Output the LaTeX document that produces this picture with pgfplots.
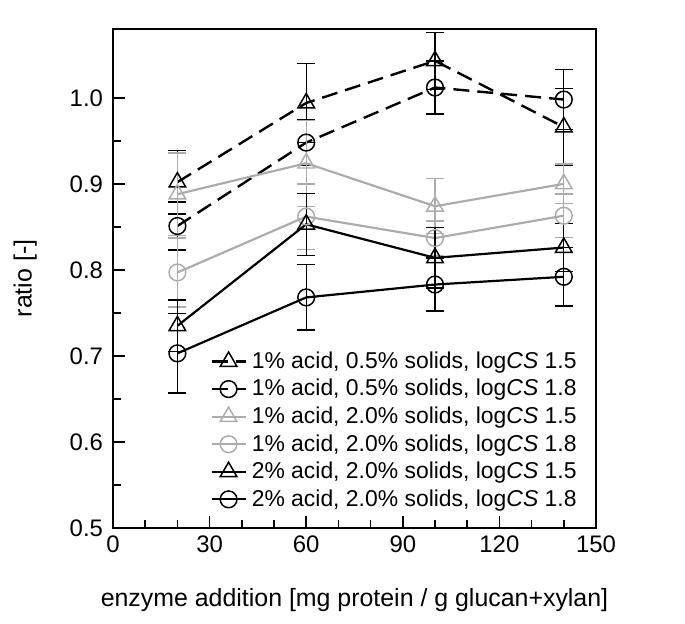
\documentclass[border=0pt]{standalone}
\usepackage{fontspec}
\setmainfont{Liberation Sans}
\usepackage{pgfplots}
\pgfplotsset{compat=1.18}
\definecolor{lgray}{RGB}{172,172,172}

\begin{document}
\begin{tikzpicture}
% page frame: 685x624 px at 0.5 bp per px, axis box at origin
\path[use as bounding box] (-56.5bp,-48bp) rectangle (286bp,264bp);
\begin{axis}[
    at={(0,0)}, anchor=south west,
    scale only axis,
    width=241.5bp, height=249.5bp,
    xmin=0, xmax=150, ymin=0.5, ymax=1.08,
    xtick={0,30,...,150}, minor x tick num=2,
    ytick={0.5,0.6,...,1.0}, minor y tick num=1,
    yticklabel style={/pgf/number format/fixed, /pgf/number format/fixed zerofill,
        /pgf/number format/precision=1, xshift=-1.5pt},
    /pgf/number format/assume math mode=true,
    tick pos=left, tick align=inside,
    major tick length=6bp, minor tick length=4bp,
    every tick/.style={black, line width=0.8pt},
    axis line style={line width=1.2pt},
    tick label style={font=\fontsize{12}{14}\selectfont},
    label style={font=\fontsize{12.5}{15}\selectfont},
    xticklabel style={yshift=-0.5pt},
    xlabel={enzyme addition [mg protein / g glucan+xylan]},
    ylabel={ratio [-]},
    xlabel style={at={(axis description cs:0.5,-0.144)}, anchor=center},
    ylabel style={at={(axis description cs:-0.182,0.5)}, anchor=center},
    legend style={at={(0.975,0.025)}, anchor=south east, draw=none, fill=none,
        font=\fontsize{11.5}{14.5}\selectfont, row sep=0pt, inner sep=1pt,
        nodes={inner xsep=2.5pt}},
    legend cell align=left,
    legend image code/.code={\draw[mark repeat=2, mark phase=2]
        plot coordinates {(0cm,0cm) (0.3cm,0cm) (0.6cm,0cm)};},
    error bars/y dir=both, error bars/y explicit,
    error bars/error bar style={solid, line width=0.7pt},
    error bars/error mark options={rotate=90, mark size=4.5pt, line width=0.7pt, solid},
]
% 1% acid, 0.5% solids, logCS 1.5
\addplot[black, line width=1.2pt, dash pattern=on 8bp off 4bp, mark=triangle, mark size=4.8pt,
    mark options={solid, fill=none, line width=0.75pt}]
    coordinates {(20,0.902) +- (0,0.037) (60,0.994) +- (0,0.046) (100,1.043) +- (0,0.033) (140,0.966) +- (0,0.045)};
% 1% acid, 0.5% solids, logCS 1.8
\addplot[black, line width=1.2pt, dash pattern=on 8bp off 4bp, mark=o, mark size=4.2pt,
    mark options={solid, fill=none, line width=0.75pt}]
    coordinates {(20,0.851) +- (0,0.028) (60,0.948) +- (0,0.027) (100,1.012) +- (0,0.031) (140,0.998) +- (0,0.035)};
% 1% acid, 2.0% solids, logCS 1.5
\addplot[lgray, line width=1.1pt, mark=triangle, mark size=4.8pt,
    mark options={solid, fill=none, line width=0.75pt}]
    coordinates {(20,0.888) +- (0,0.048) (60,0.924) +- (0,0.050) (100,0.874) +- (0,0.032) (140,0.900) +- (0,0.023)};
% 1% acid, 2.0% solids, logCS 1.8
\addplot[lgray, line width=1.1pt, mark=o, mark size=4.2pt,
    mark options={solid, fill=none, line width=0.75pt}]
    coordinates {(20,0.797) +- (0,0.040) (60,0.862) +- (0,0.038) (100,0.837) +- (0,0.020) (140,0.863) +- (0,0.025)};
% 2% acid, 2.0% solids, logCS 1.5
\addplot[black, line width=1.1pt, mark=triangle, mark size=4.8pt,
    mark options={solid, fill=none, line width=0.75pt}]
    coordinates {(20,0.735) +- (0,0.030) (60,0.853) +- (0,0.036) (100,0.814) +- (0,0.035) (140,0.826) +- (0,0.028)};
% 2% acid, 2.0% solids, logCS 1.8
\addplot[black, line width=1.1pt, mark=o, mark size=4.2pt,
    mark options={solid, fill=none, line width=0.75pt}]
    coordinates {(20,0.703) +- (0,0.046) (60,0.768) +- (0,0.038) (100,0.783) +- (0,0.031) (140,0.792) +- (0,0.034)};
\legend{1\% acid{,} 0.5\% solids{,} log\textit{CS} 1.5,
        1\% acid{,} 0.5\% solids{,} log\textit{CS} 1.8,
        1\% acid{,} 2.0\% solids{,} log\textit{CS} 1.5,
        1\% acid{,} 2.0\% solids{,} log\textit{CS} 1.8,
        2\% acid{,} 2.0\% solids{,} log\textit{CS} 1.5,
        2\% acid{,} 2.0\% solids{,} log\textit{CS} 1.8}
\end{axis}
\end{tikzpicture}
\end{document}
